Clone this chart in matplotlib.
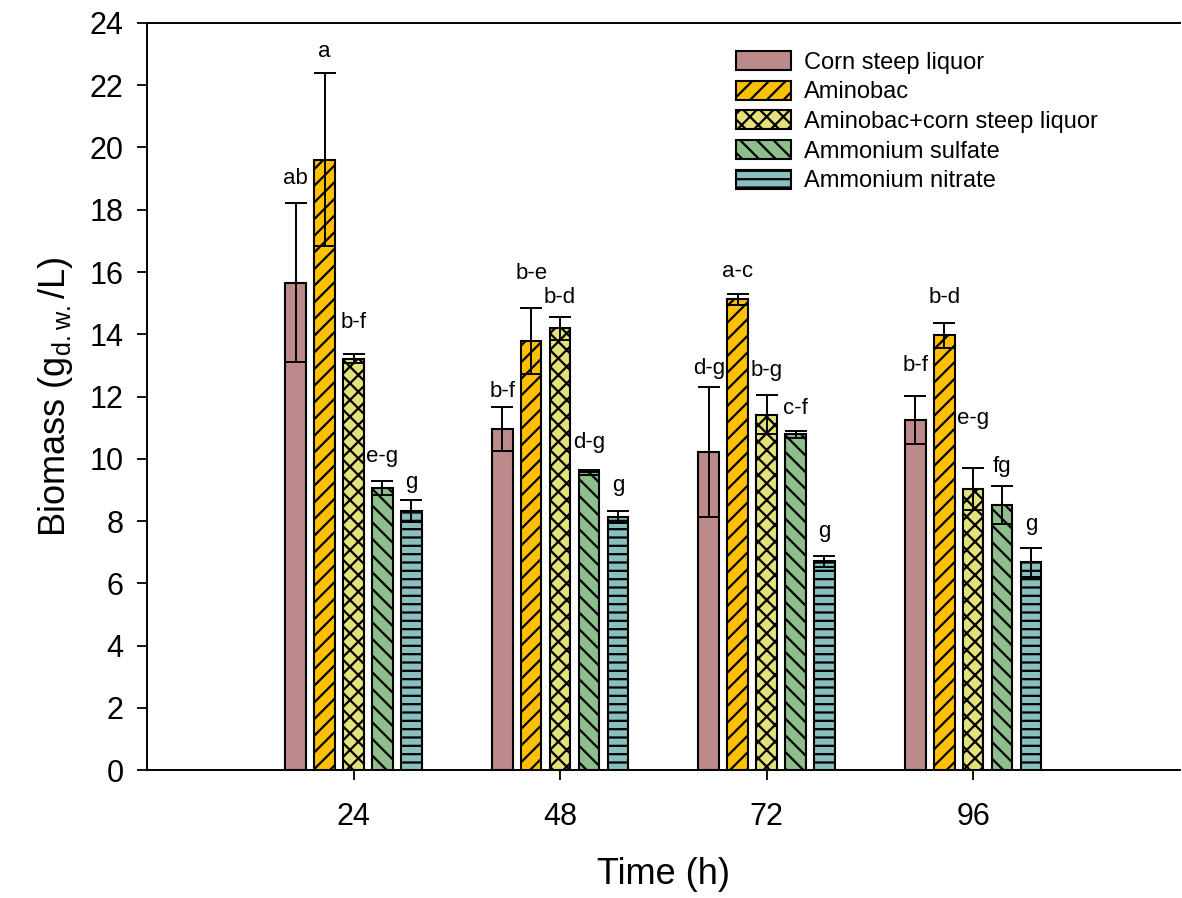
import numpy as np
import matplotlib
matplotlib.use("Agg")
from matplotlib import pyplot as plt

plt.rcParams['font.family'] = ['Liberation Sans', 'DejaVu Sans']
plt.rcParams['mathtext.default'] = 'regular'
plt.rcParams['hatch.linewidth'] = 1.6

# sampling times (h)
times = ['24', '48', '72', '96']
series = ['Corn steep liquor', 'Aminobac', 'Aminobac+corn steep liquor',
          'Ammonium sulfate', 'Ammonium nitrate']

# biomass means (g d.w./L), one list per nitrogen source, over 24/48/72/96 h
csl = [15.66, 10.96, 10.21, 11.24]
aminobac = [19.60, 13.78, 15.12, 13.97]
amino_csl = [13.22, 14.19, 11.42, 9.03]
amm_sulfate = [9.06, 9.56, 10.78, 8.53]
amm_nitrate = [8.33, 8.13, 6.70, 6.67]

# standard deviations
csl_err = [2.55, 0.70, 2.09, 0.77]
aminobac_err = [2.78, 1.05, 0.18, 0.40]
amino_csl_err = [0.15, 0.36, 0.62, 0.67]
amm_sulfate_err = [0.21, 0.07, 0.10, 0.61]
amm_nitrate_err = [0.35, 0.18, 0.19, 0.46]

# significance letters and the height where they are written
letters = [['ab', 'b-f', 'd-g', 'b-f'],
           ['a', 'b-e', 'a-c', 'b-d'],
           ['b-f', 'b-d', 'b-g', 'e-g'],
           ['e-g', 'd-g', 'c-f', 'fg'],
           ['g', 'g', 'g', 'g']]
letter_y = [[19.0, 12.17, 12.89, 13.0],
            [23.07, 15.96, 16.03, 15.18],
            [14.38, 15.18, 12.82, 11.28],
            [10.07, 10.51, 11.6, 9.76],
            [9.24, 9.14, 7.67, 7.88]]

means = [csl, aminobac, amino_csl, amm_sulfate, amm_nitrate]
errs = [csl_err, aminobac_err, amino_csl_err, amm_sulfate_err, amm_nitrate_err]
colors = ['#BC8A8A', '#FFC000', '#E4E07A', '#8DBE8B', '#88BFBF']
hatches = ['', '//', 'xx', '\\\\', '--']

fig = plt.figure(figsize=(11.82, 8.98), dpi=100)
ax = fig.add_axes([0.1244, 0.1425, 0.8736, 0.8319])

x = np.arange(1, len(times) + 1)
step = 0.14
width = 0.10
for i in range(len(series)):
    pos = x + (i - 2) * step
    ax.bar(pos, means[i], width, color=colors[i], edgecolor='black',
           linewidth=1.5, hatch=hatches[i], label=series[i], zorder=2)
    ax.errorbar(pos, means[i], yerr=errs[i], fmt='none', ecolor='black',
                elinewidth=1.4, capsize=8, capthick=1.4, zorder=3)
    for j in range(len(times)):
        ax.text(pos[j], letter_y[i][j], letters[i][j], ha='center', va='center',
                fontsize=16)

ax.set_xlim(0, 5)
ax.set_ylim(0, 24)
ax.set_xticks(x)
ax.set_xticklabels(times)
ax.set_yticks(np.arange(0, 25, 2))
ax.tick_params(axis='both', labelsize=22, length=7, width=1.3)
ax.tick_params(axis='y', pad=10)
ax.tick_params(axis='x', pad=16)
ax.spines['right'].set_visible(False)
for s in ax.spines.values():
    s.set_linewidth(1.4)

ax.set_xlabel('Time (h)', fontsize=26, labelpad=18)
ax.set_ylabel('Biomass (g$_{d.w.}$/L)', fontsize=26, labelpad=10)

ax.legend(loc='upper left', bbox_to_anchor=(0.561, 0.975), frameon=False,
          fontsize=17, handlelength=2.33, handleheight=0.85, labelspacing=0.3,
          handletextpad=0.55, borderaxespad=0)

fig.savefig('out.png', dpi=100)
